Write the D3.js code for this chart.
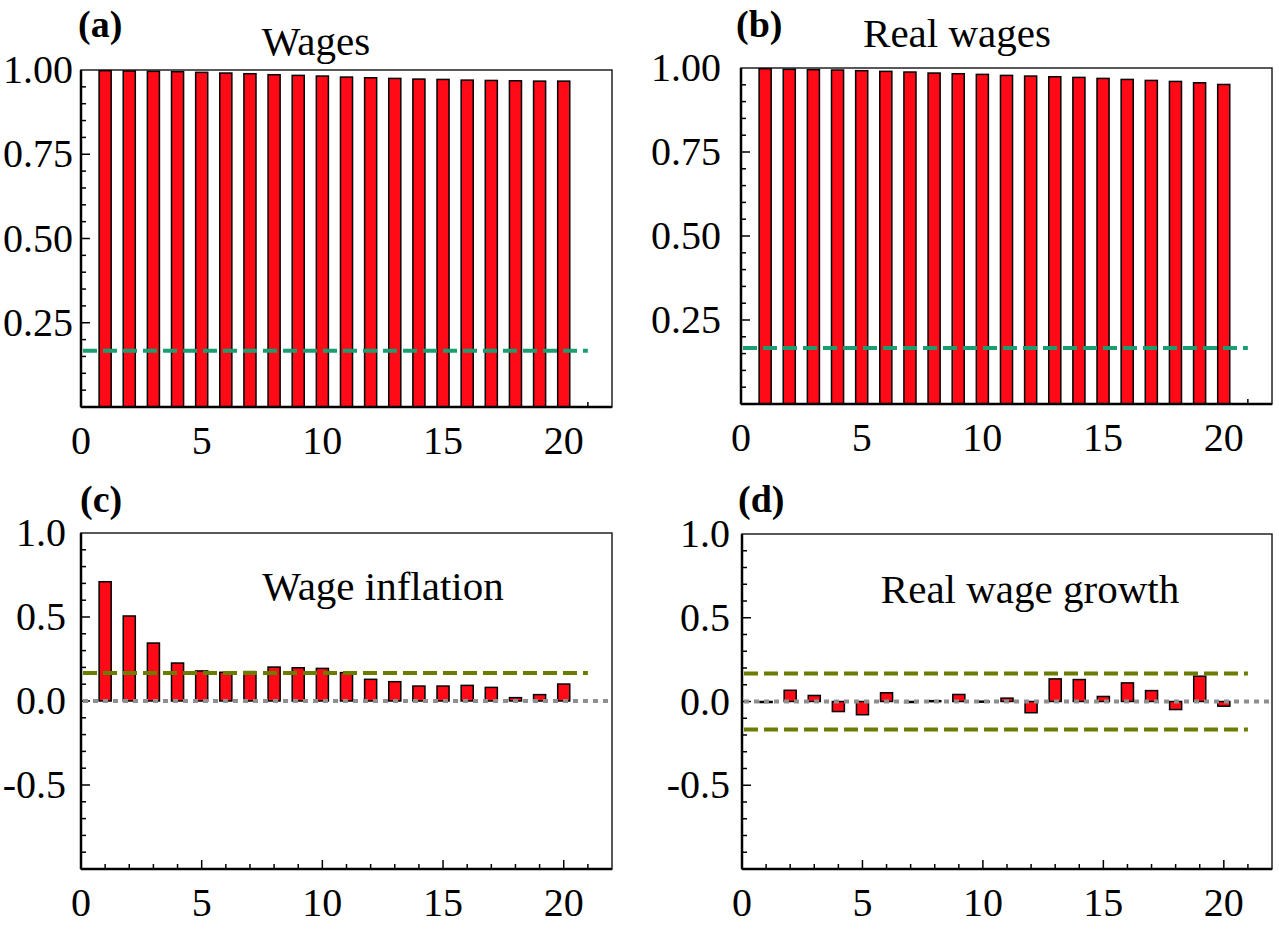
<!DOCTYPE html>
<html>
<head>
<meta charset="utf-8">
<script src="https://cdn.jsdelivr.net/npm/d3@7"></script>
<style>
  html, body { margin: 0; padding: 0; background: #fff; }
  svg { display: block; }
  text { font-family: "Liberation Serif", "Times New Roman", serif; fill: #000; }
</style>
</head>
<body>
<svg id="chart" width="1279" height="929"></svg>
<script>
// ---- data ----
const lags = d3.range(1, 21);
const wages = [0.998, 0.997, 0.996, 0.995, 0.993, 0.991, 0.989, 0.986, 0.984, 0.982,
               0.979, 0.977, 0.975, 0.973, 0.972, 0.970, 0.969, 0.968, 0.967, 0.967];
const realWages = [0.998, 0.996, 0.995, 0.994, 0.992, 0.990, 0.988, 0.985, 0.983, 0.981,
                   0.978, 0.976, 0.974, 0.972, 0.969, 0.966, 0.963, 0.960, 0.956, 0.951];
const wageInflation = [0.710, 0.506, 0.345, 0.226, 0.179, 0.171, 0.175, 0.202, 0.198, 0.194,
                       0.169, 0.129, 0.115, 0.089, 0.089, 0.093, 0.081, 0.020, 0.038, 0.101];
const realWageGrowth = [-0.004, 0.067, 0.036, -0.060, -0.079, 0.052, -0.003, 0.005, 0.042, 0.002,
                        0.020, -0.067, 0.135, 0.131, 0.030, 0.111, 0.065, -0.048, 0.151, -0.028];
const bandLevel = 0.167;
const xTickLabels = [0, 5, 10, 15, 20];
const yTicksTop = [0.25, 0.50, 0.75, 1.00];
const yTicksBottom = [-0.5, 0.0, 0.5, 1.0];
const panelLetters = ["(a)", "(b)", "(c)", "(d)"];
const panelTitles = ["Wages", "Real wages", "Wage inflation", "Real wage growth"];

// ---- layout ----
const hyph = f => (d => f(d).replace("\u2212", "-"));
const panels = [
  { values: wages, letter: panelLetters[0], title: panelTitles[0],
    box: {l: 81, r: 612, t: 70, b: 407}, yDomain: [0, 1], yLabels: yTicksTop, fmt: hyph(d3.format(".2f")),
    minorStep: 0.05, bands: [bandLevel], bandColor: "#1b9e6f", zero: false,
    letterPos: [78, 37], titlePos: [316, 55], ylabGap: 8 },
  { values: realWages, letter: panelLetters[1], title: panelTitles[1],
    box: {l: 741, r: 1272, t: 68, b: 404}, yDomain: [0, 1], yLabels: yTicksTop, fmt: hyph(d3.format(".2f")),
    minorStep: 0.05, bands: [bandLevel], bandColor: "#1b9e6f", zero: false,
    letterPos: [736, 37], titlePos: [957, 47], ylabGap: 20 },
  { values: wageInflation, letter: panelLetters[2], title: panelTitles[2],
    box: {l: 81, r: 612, t: 533, b: 869}, yDomain: [-1, 1], yLabels: yTicksBottom, fmt: hyph(d3.format(".1f")),
    minorStep: 0.1, bands: [bandLevel], bandColor: "#6b7c00", zero: true,
    letterPos: [80, 512], titlePos: [383, 600], ylabGap: 15 },
  { values: realWageGrowth, letter: panelLetters[3], title: panelTitles[3],
    box: {l: 742, r: 1272, t: 534, b: 869}, yDomain: [-1, 1], yLabels: yTicksBottom, fmt: hyph(d3.format(".1f")),
    minorStep: 0.1, bands: [bandLevel, -bandLevel], bandColor: "#6b7c00", zero: true,
    letterPos: [738, 512], titlePos: [1030, 603], ylabGap: 12 }
];

const svg = d3.select("#chart");
const fontSize = 40;

panels.forEach(p => {
  const g = svg.append("g");
  const x = d3.scaleLinear().domain([0, 22]).range([p.box.l, p.box.r]);
  const y = d3.scaleLinear().domain(p.yDomain).range([p.box.b, p.box.t]);

  // frame (top/right thin)
  g.append("rect").attr("x", p.box.l).attr("y", p.box.t)
    .attr("width", p.box.r - p.box.l).attr("height", p.box.b - p.box.t)
    .attr("fill", "#fff").attr("stroke", "#222").attr("stroke-width", 1.5);

  // x ticks (inward)
  const xt = d3.range(1, 22);
  g.selectAll(".xt").data(xt).enter().append("line")
    .attr("x1", d => x(d)).attr("x2", d => x(d))
    .attr("y1", p.box.b).attr("y2", d => p.box.b - (d % 5 === 0 ? 9 : 5))
    .attr("stroke", "#000").attr("stroke-width", 1.5);

  // y ticks (inward)
  const nMinor = Math.round((p.yDomain[1] - p.yDomain[0]) / p.minorStep);
  const yt = d3.range(1, nMinor).map(i => p.yDomain[0] + i * p.minorStep);
  const majorStep = p.minorStep * 5;
  g.selectAll(".yt").data(yt).enter().append("line")
    .attr("x1", p.box.l).attr("x2", d => p.box.l + (Math.abs(d / majorStep - Math.round(d / majorStep)) < 1e-6 ? 9 : 5))
    .attr("y1", d => y(d)).attr("y2", d => y(d))
    .attr("stroke", "#000").attr("stroke-width", 1.5);

  // bars
  const bw = x(0.5) - x(0);
  g.selectAll(".bar").data(p.values).enter().append("rect")
    .attr("x", (d, i) => x(lags[i]) - bw / 2)
    .attr("width", bw)
    .attr("y", d => y(Math.max(0, d)))
    .attr("height", d => Math.max(1, Math.abs(y(d) - y(0))))
    .attr("fill", "#ff0a16").attr("stroke", "#000").attr("stroke-width", 1.5);

  // zero line
  if (p.zero) {
    g.append("line").attr("x1", x(0) + 2).attr("x2", p.box.r)
      .attr("y1", y(0)).attr("y2", y(0))
      .attr("stroke", "#8f8f8f").attr("stroke-width", 4).attr("stroke-dasharray", "5,5");
  }
  // significance bands
  p.bands.forEach(b => {
    g.append("line").attr("x1", x(0) + 2).attr("x2", x(21))
      .attr("y1", y(b)).attr("y2", y(b))
      .attr("stroke", p.bandColor).attr("stroke-width", 4).attr("stroke-dasharray", "14,6");
  });

  // axes lines left/bottom (thicker)
  g.append("line").attr("x1", p.box.l).attr("x2", p.box.l).attr("y1", p.box.t).attr("y2", p.box.b)
    .attr("stroke", "#000").attr("stroke-width", 2.5);
  g.append("line").attr("x1", p.box.l).attr("x2", p.box.r).attr("y1", p.box.b).attr("y2", p.box.b)
    .attr("stroke", "#000").attr("stroke-width", 2.5);

  // x labels
  g.selectAll(".xl").data(xTickLabels).enter().append("text")
    .attr("x", d => x(d)).attr("y", p.box.b + 47)
    .attr("text-anchor", "middle").attr("font-size", fontSize).text(d => d);

  // y labels
  g.selectAll(".yl").data(p.yLabels).enter().append("text")
    .attr("x", p.box.l - p.ylabGap).attr("y", d => y(d) + 13)
    .attr("text-anchor", "end").attr("font-size", fontSize).text(d => p.fmt(d));

  // letter & title
  g.append("text").attr("x", p.letterPos[0]).attr("y", p.letterPos[1])
    .attr("font-size", 38).attr("font-weight", "bold").text(p.letter);
  g.append("text").attr("x", p.titlePos[0]).attr("y", p.titlePos[1])
    .attr("text-anchor", "middle").attr("font-size", 41).text(p.title);
});
</script>
</body>
</html>
